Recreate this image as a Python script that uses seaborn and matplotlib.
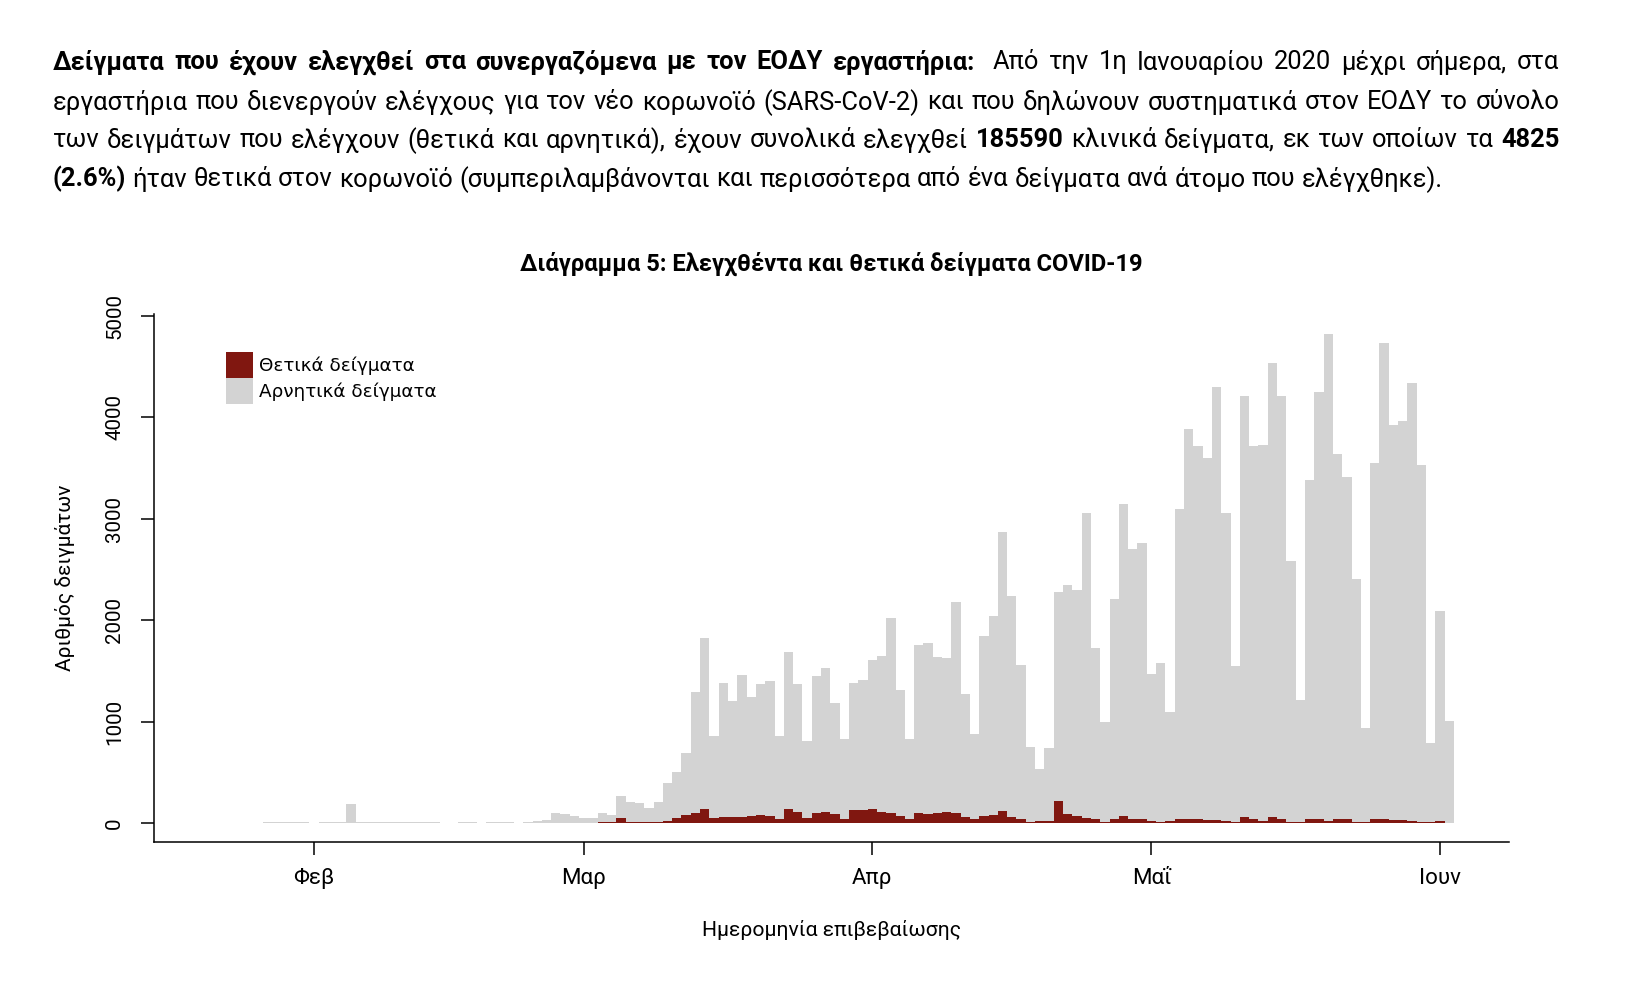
import numpy as np
import pandas as pd
import matplotlib
matplotlib.use("Agg")
import matplotlib.pyplot as plt
import seaborn as sns
from matplotlib.patches import Patch

# ---------------- data ----------------
start_date = "2020-01-27"
total_jan = [5, 8, 10, 12, 8]
total_feb = [3, 5, 6, 4, 190, 10, 8, 6, 5, 6, 5, 6, 5, 4, 0, 0, 6, 5, 0, 7,
             8, 6, 0, 12, 18, 30, 95, 85, 65]
total_mar = [50, 45, 100, 80, 264, 210, 195, 148, 210, 395, 504, 690, 1294, 1826,
             857, 1382, 1199, 1460, 1241, 1375, 1403, 853, 1682, 1375, 804, 1446,
             1530, 1181, 825, 1382, 1410]
total_apr = [1611, 1643, 2020, 1308, 825, 1752, 1774, 1633, 1622, 2183, 1276, 881,
             1841, 2038, 2874, 2239, 1555, 744, 529, 740, 2274, 2348, 2299, 3060,
             1728, 998, 2211, 3150, 2705, 2757]
total_may = [1464, 1576, 1093, 3096, 3890, 3713, 3597, 4295, 3060, 1544, 4214, 3720,
             3727, 4541, 4207, 2581, 1216, 3385, 4249, 4820, 3639, 3413, 2409, 935,
             3554, 4732, 3925, 3960, 4337, 3533, 786]
total_jun = [2088, 1001]

pos_jan = [0, 0, 0, 0, 0]
pos_feb = [0] * 25 + [1, 2, 1, 3]
pos_mar = [2, 3, 4, 8, 45, 8, 10, 8, 10, 21, 50, 75, 99, 141, 53, 63, 63, 60, 70,
           74, 70, 42, 138, 106, 53, 99, 106, 92, 42, 123, 123]
pos_apr = [134, 106, 99, 70, 35, 99, 85, 99, 109, 99, 63, 35, 70, 74, 116, 63, 35,
           7, 18, 18, 212, 88, 70, 53, 35, 11, 42, 70, 42, 42]
pos_may = [18, 11, 18, 42, 42, 35, 28, 28, 18, 7, 63, 35, 18, 60, 35, 11, 7, 35,
           42, 18, 42, 35, 11, 7, 35, 42, 28, 25, 18, 11, 4]
pos_jun = [18, 0]

month_tick_dates = ["2020-02-01", "2020-03-01", "2020-04-01", "2020-05-01", "2020-06-01"]
month_labels = ["Φεβ", "Μαρ", "Απρ", "Μαΐ", "Ιουν"]
y_ticks = [0, 1000, 2000, 3000, 4000, 5000]

title = "Διάγραμμα 5: Ελεγχθέντα και θετικά δείγματα COVID-19"
xlabel = "Ημερομηνία επιβεβαίωσης"
ylabel = "Αριθμός δειγμάτων"
legend_labels = ["Θετικά δείγματα", "Αρνητικά δείγματα"]

paragraph = [
    [("Δείγματα που έχουν ελεγχθεί στα συνεργαζόμενα με τον ΕΟΔΥ εργαστήρια:", True),
     ("Από την 1η Ιανουαρίου 2020 μέχρι σήμερα, στα", False)],
    [("εργαστήρια που διενεργούν ελέγχους για τον νέο κορωνοϊό (SARS-CoV-2) και που "
      "δηλώνουν συστηματικά στον ΕΟΔΥ το σύνολο", False)],
    [("των δειγμάτων που ελέγχουν (θετικά και αρνητικά), έχουν συνολικά ελεγχθεί", False),
     ("185590", True), ("κλινικά δείγματα, εκ των οποίων τα", False), ("4825", True)],
    [("(2.6%)", True),
     ("ήταν θετικά στον κορωνοϊό (συμπεριλαμβάνονται και περισσότερα από ένα δείγματα "
      "ανά άτομο που ελέγχθηκε).", False)],
]

# ---------------- frame ----------------
total = total_jan + total_feb + total_mar + total_apr + total_may + total_jun
positive = pos_jan + pos_feb + pos_mar + pos_apr + pos_may + pos_jun
dates = pd.date_range(start_date, periods=len(total), freq="D")
ref = pd.Timestamp("2020-02-01")
df = pd.DataFrame({"day": (dates - ref).days, "total": total, "positive": positive})
tick_pos = [(pd.Timestamp(d) - ref).days for d in month_tick_dates]

RED = "#801710"
GRAY = "#D3D3D3"
W, H = 1652, 991

sns.set_theme(style="white")
FAM = ["Roboto", "DejaVu Sans"]
plt.rcParams["font.family"] = FAM
plt.rcParams.update({"text.color": "black", "axes.labelcolor": "black",
                     "xtick.color": "black", "ytick.color": "black"})

fig = plt.figure(figsize=(W / 100, H / 100), dpi=100)
ax = fig.add_axes([153.8 / W, 1 - 841.8 / H, (1508.8 - 153.8) / W, (841.8 - 314.2) / H])

sns.barplot(data=df, x="day", y="total", native_scale=True, width=1.0, color=GRAY,
            saturation=1, errorbar=None, linewidth=0, ax=ax)
sns.barplot(data=df, x="day", y="positive", native_scale=True, width=1.0, color=RED,
            saturation=1, errorbar=None, linewidth=0, ax=ax)
for p in ax.patches:
    p.set_antialiased(False)

ax.set_xlim(-17.2, 128.4)
ax.set_ylim(-186.4, 5017.8)
ax.set_xticks(tick_pos)
ax.set_xticklabels(month_labels, fontsize=16)
ax.set_yticks(y_ticks)
ax.set_yticklabels([str(v) for v in y_ticks], rotation=90, va="center", fontsize=14.8)
ax.tick_params(axis="x", length=9.7, width=1.1, pad=9, colors="black", direction="out",
               bottom=True)
ax.tick_params(axis="y", length=9.7, width=1.1, pad=11.5, colors="black", direction="out",
               left=True)
for s in ["top", "right"]:
    ax.spines[s].set_visible(False)
for s in ["left", "bottom"]:
    ax.spines[s].set_color("black")
    ax.spines[s].set_linewidth(1.1)
ax.grid(False)

ax.set_xlabel(xlabel, fontsize=15.2, va="center", color="black")
ax.xaxis.set_label_coords(0.5, -(930.3 - 841.8) / (841.8 - 314.2))
ax.set_ylabel(ylabel, fontsize=15.0, va="center", color="black")
ax.yaxis.set_label_coords((65.3 - 153.8) / (1508.8 - 153.8), 0.5)

handles = [Patch(facecolor=RED, edgecolor="none", label=legend_labels[0]),
           Patch(facecolor=GRAY, edgecolor="none", label=legend_labels[1])]
leg_fs = 13.2
fs_px = leg_fs * 100 / 72
ax.legend(handles=handles, loc="upper left",
          bbox_to_anchor=((225.5 - 153.8) / 1355.0, (841.8 - 351.9) / 527.6),
          frameon=False, borderpad=0, borderaxespad=0,
          handlelength=27.4 / fs_px, handleheight=1.82,
          handletextpad=6 / fs_px, labelspacing=0.0,
          labelcolor="black",
          prop={"family": ["DejaVu Sans"], "size": leg_fs})

renderer = fig.canvas.get_renderer()


def measure(s, size, bold, family=FAM):
    t = fig.text(0, 0, s, fontsize=size, fontweight="bold" if bold else "normal",
                 family=family)
    w = t.get_window_extent(renderer).width
    t.remove()
    return w


# title fitted to its width in the reference
base = 16
tw = measure(title, base, True)
title_size = base * 622 / tw
ax.set_title(title, fontsize=title_size, fontweight="bold", y=1 + (314.2 - 263.4) / 527.6,
             va="center", pad=0, color="black")

# paragraph, justified like the reference
lines_words = []
for segs in paragraph:
    words = []
    for text, bold in segs:
        for w in text.split():
            words.append((w, bold))
    lines_words.append(words)

base = 16
sp = measure("a a", base, False) - measure("aa", base, False)
nat4 = sum(measure(w, base, b) for w, b in lines_words[3]) + sp * (len(lines_words[3]) - 1)
psize = base * 1397 / nat4
sp = measure("a a", psize, False) - measure("aa", psize, False)

x0, x1 = 52.7, 1559.3
ys = [62.2, 102.2, 140.1, 179.1]
for i, words in enumerate(lines_words):
    widths = [measure(w, psize, b) for w, b in words]
    weights = [1.0] * (len(words) - 1)
    if i == 0:
        # wider gap after the colon of the bold heading
        for k, (w, b) in enumerate(words[:-1]):
            if w.endswith(":") and b:
                weights[k] = 1.8
    if i < 3:
        unit = (x1 - x0 - sum(widths)) / sum(weights)
        gaps = [unit * wt for wt in weights]
    else:
        gaps = [sp] * (len(words) - 1)
    x = x0
    for k, ((w, b), wd) in enumerate(zip(words, widths)):
        fig.text(x / W, 1 - ys[i] / H, w, fontsize=psize,
                 fontweight="bold" if b else "normal", ha="left", va="center",
                 color="black")
        if k < len(gaps):
            x += wd + gaps[k]

fig.savefig("out.png", dpi=100, facecolor="white")
